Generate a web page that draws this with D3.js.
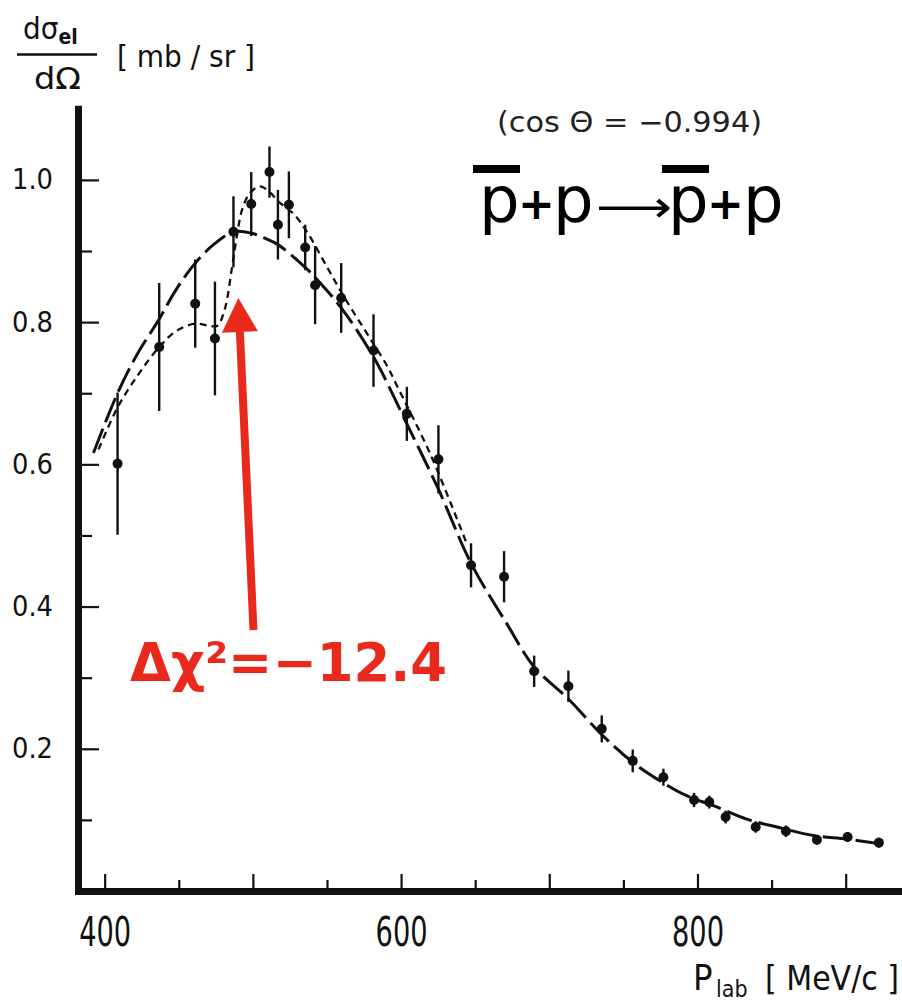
<!DOCTYPE html>
<html>
<head>
<meta charset="utf-8">
<script src="https://cdn.jsdelivr.net/npm/d3@7"></script>
<style>
  body { margin: 0; background: #fff; }
  svg { display: block; }
</style>
</head>
<body>
<svg id="chart" width="902" height="1004"></svg>
<script>
// measured points: p_lab [MeV/c], dsigma/dOmega [mb/sr], error
const momentum = [408.7, 436.8, 461.1, 474.4, 486.9, 498.9, 511.2, 516.9, 524.3, 535.3,
  542.0, 559.6, 581.4, 603.9, 625.2, 647.2, 669.5, 689.8, 712.9, 735.4,
  756.3, 777.0, 797.7, 808.0, 819.0, 839.3, 859.7, 880.6, 901.3, 922.4];
const crossSection = [0.601, 0.765, 0.826, 0.777, 0.927, 0.966, 1.011, 0.937, 0.965, 0.905,
  0.852, 0.834, 0.760, 0.671, 0.607, 0.458, 0.442, 0.309, 0.288, 0.228,
  0.183, 0.160, 0.128, 0.125, 0.104, 0.090, 0.084, 0.072, 0.076, 0.068];
const errors = [0.100, 0.090, 0.062, 0.080, 0.050, 0.045, 0.036, 0.049, 0.047, 0.032,
  0.055, 0.049, 0.051, 0.038, 0.048, 0.031, 0.036, 0.022, 0.022, 0.019,
  0.016, 0.012, 0.010, 0.009, 0.009, 0.008, 0.008, 0.007, 0.007, 0.007];

// long-dashed fit
const fitLongP = [392.4, 408.7, 422, 436.4, 448, 461.1, 474, 486.9, 499.3, 508, 516.9, 535.3,
  542, 559.6, 581.4, 603.9, 625.2, 647.2, 671.3, 689.8, 712.9, 735.4, 756.3, 777,
  792.7, 810.7, 833.2, 855.6, 878.1, 900.6, 920.9];
const fitLongV = [0.616, 0.700, 0.755, 0.803, 0.845, 0.883, 0.910, 0.927, 0.925, 0.918, 0.909, 0.877,
  0.863, 0.820, 0.751, 0.657, 0.565, 0.461, 0.376, 0.315, 0.270, 0.220, 0.181, 0.152,
  0.134, 0.120, 0.101, 0.089, 0.078, 0.073, 0.067];

// short-dashed fit (merges with the other one above ~645)
const fitShortP = [395.9, 408.7, 422.9, 436.8, 448, 461.1, 470, 476, 481, 486, 489.5, 493,
  498.2, 505, 511.7, 517, 527.5, 536.5, 549.9, 561.4, 579.1, 590.4, 597.1, 619.6, 644.4];
const fitShortV = [0.621, 0.680, 0.727, 0.765, 0.787, 0.798, 0.795, 0.795, 0.818, 0.878, 0.925, 0.960,
  0.982, 0.991, 0.982, 0.970, 0.952, 0.927, 0.878, 0.836, 0.777, 0.739, 0.711, 0.615, 0.488];

const xMajorTicks = [400, 500, 600, 700, 800, 900];
const xMinorTicks = [450, 550, 650, 750, 850];
const xTickLabels = [400, 600, 800];
const yMajorTicks = [0.2, 0.4, 0.6, 0.8, 1.0];
const yMinorTicks = [0.1, 0.3, 0.5, 0.7, 0.9];

// annotation arrow, in data units
const arrowTail = [500.4, 0.367];
const arrowTip = [490.2, 0.834];

const ink = "#111";
const red = "#e8291c";
const axisFont = "'Liberation Sans Narrow','DejaVu Sans Condensed','DejaVu Sans',sans-serif";

const svg = d3.select("#chart");

const x = d3.scaleLinear().domain([382, 938]).range([78, 902]);
const y = d3.scaleLinear().domain([0, 1.1]).range([891, 108.8]);

// ---- axes ----
const gy = svg.append("g").attr("transform", "translate(78,0)");
gy.call(d3.axisLeft(y).tickValues(yMajorTicks).tickSize(-21).tickSizeOuter(0).tickFormat(""));
gy.selectAll(".tick line").attr("stroke", ink).attr("stroke-width", 2.2);
const gyMinor = svg.append("g").attr("transform", "translate(78,0)");
gyMinor.call(d3.axisLeft(y).tickValues(yMinorTicks).tickSize(-14).tickSizeOuter(0).tickFormat(""));
gyMinor.select(".domain").remove();
gyMinor.selectAll(".tick line").attr("stroke", ink).attr("stroke-width", 2.2);

const gx = svg.append("g").attr("transform", "translate(0,891)");
gx.call(d3.axisBottom(x).tickValues(xMajorTicks).tickSize(-17).tickSizeOuter(0).tickFormat(""));
gx.selectAll(".tick line").attr("stroke", ink).attr("stroke-width", 2.2);
const gxMinor = svg.append("g").attr("transform", "translate(0,891)");
gxMinor.call(d3.axisBottom(x).tickValues(xMinorTicks).tickSize(-11).tickSizeOuter(0).tickFormat(""));
gxMinor.select(".domain").remove();
gxMinor.selectAll(".tick line").attr("stroke", ink).attr("stroke-width", 2.2);

svg.selectAll(".domain").attr("stroke", ink).attr("stroke-width", 7)
  .attr("stroke-linecap", "square");

// tick labels
const yLab = svg.append("g").attr("transform", "translate(78,0)")
  .call(d3.axisLeft(y).tickValues(yMajorTicks).tickSize(0).tickPadding(25)
    .tickFormat(d3.format(".1f")));
yLab.select(".domain").remove();
yLab.selectAll("text")
  .attr("font-family", axisFont).attr("font-size", 28).attr("fill", ink)
  .attr("textLength", 41).attr("lengthAdjust", "spacingAndGlyphs");

const xLab = svg.append("g").attr("transform", "translate(0,891)")
  .call(d3.axisBottom(x).tickValues(xTickLabels).tickSize(0).tickPadding(27)
    .tickFormat(d3.format("d")));
xLab.select(".domain").remove();
xLab.selectAll("text")
  .attr("font-family", axisFont).attr("font-size", 40).attr("fill", ink)
  .attr("textLength", 52).attr("lengthAdjust", "spacingAndGlyphs");

// ---- fit curves ----
const line = d3.line()
  .x(d => x(d[0]))
  .y(d => y(d[1]))
  .curve(d3.curveCatmullRom.alpha(0.5));

svg.append("path")
  .datum(d3.zip(fitLongP, fitLongV))
  .attr("d", line)
  .attr("fill", "none")
  .attr("stroke", ink)
  .attr("stroke-width", 3)
  .attr("stroke-dasharray", "26,7");

svg.append("path")
  .datum(d3.zip(fitShortP, fitShortV))
  .attr("d", line)
  .attr("fill", "none")
  .attr("stroke", ink)
  .attr("stroke-width", 2.3)
  .attr("stroke-dasharray", "7,5");

// ---- data points ----
const pts = d3.range(momentum.length).map(i => ({ p: momentum[i], v: crossSection[i], e: errors[i] }));

svg.append("g").selectAll("line")
  .data(pts)
  .enter()
  .append("line")
  .attr("x1", d => x(d.p))
  .attr("x2", d => x(d.p))
  .attr("y1", d => y(d.v + d.e))
  .attr("y2", d => y(d.v - d.e))
  .attr("stroke", ink)
  .attr("stroke-width", 2.4);

svg.append("g").selectAll("circle")
  .data(pts)
  .enter()
  .append("circle")
  .attr("cx", d => x(d.p))
  .attr("cy", d => y(d.v))
  .attr("r", 5)
  .attr("fill", ink);

// ---- axis titles ----
const num = svg.append("text")
  .attr("x", 23).attr("y", 39)
  .attr("font-family", axisFont).attr("font-size", 31).attr("fill", ink);
num.append("tspan").text("dσ");
num.append("tspan").text("el")
  .attr("dy", 5).attr("font-size", 21).attr("font-weight", "bold");
svg.append("line")
  .attr("x1", 17).attr("x2", 97).attr("y1", 54.5).attr("y2", 54.5)
  .attr("stroke", ink).attr("stroke-width", 2.5);
svg.append("text").text("dΩ")
  .attr("x", 34).attr("y", 89)
  .attr("font-family", axisFont).attr("font-size", 31).attr("fill", ink)
  .attr("textLength", 47).attr("lengthAdjust", "spacingAndGlyphs");
svg.append("text").text("[ mb / sr ]")
  .attr("x", 117).attr("y", 67)
  .attr("font-family", axisFont).attr("font-size", 30).attr("fill", ink)
  .attr("textLength", 138).attr("lengthAdjust", "spacingAndGlyphs");

svg.append("text").text("P")
  .attr("x", 693).attr("y", 990)
  .attr("font-family", axisFont).attr("font-size", 36).attr("fill", ink);
svg.append("text").text("lab")
  .attr("x", 716).attr("y", 997)
  .attr("font-family", axisFont).attr("font-size", 23).attr("fill", ink);
svg.append("text").text("[ MeV/c ]")
  .attr("x", 765).attr("y", 990)
  .attr("font-family", axisFont).attr("font-size", 34).attr("fill", ink)
  .attr("textLength", 134).attr("lengthAdjust", "spacingAndGlyphs");

// ---- annotations ----
svg.append("text").text("(cos  Θ = −0.994)")
  .attr("x", 497).attr("y", 132)
  .attr("font-family", axisFont).attr("font-size", 28).attr("fill", "#222")
  .attr("textLength", 265).attr("lengthAdjust", "spacingAndGlyphs");

const reaction = [
  { t: "p", x: 479, size: 64, base: 222, bar: true },
  { t: "+", x: 518, size: 44, base: 219, bold: true },
  { t: "p", x: 553, size: 64, base: 222 },
  { t: "⟶", x: 596, size: 44, base: 222, len: 76 },
  { t: "p", x: 668, size: 64, base: 222, bar: true },
  { t: "+", x: 707, size: 44, base: 219, bold: true },
  { t: "p", x: 743, size: 64, base: 222 }
];
const rg = svg.append("g");
reaction.forEach(r => {
  const tx = rg.append("text").text(r.t)
    .attr("x", r.x).attr("y", r.base)
    .attr("font-family", "'DejaVu Sans',sans-serif")
    .attr("font-size", r.size)
    .attr("font-weight", r.bold ? "bold" : "normal")
    .attr("fill", "#000");
  if (r.len) tx.attr("textLength", r.len).attr("lengthAdjust", "spacingAndGlyphs");
  if (r.bar) {
    rg.append("rect").attr("x", r.x - 6).attr("y", 165).attr("width", 47).attr("height", 8).attr("fill", "#000");
  }
});

// red arrow
const tx0 = x(arrowTail[0]), ty0 = y(arrowTail[1]);
const tx1 = x(arrowTip[0]), ty1 = y(arrowTip[1]);
const ang = Math.atan2(ty1 - ty0, tx1 - tx0);
const headLen = 34, headHalf = 18;
const bx = tx1 - headLen * Math.cos(ang), by = ty1 - headLen * Math.sin(ang);
svg.append("line")
  .attr("x1", tx0).attr("y1", ty0).attr("x2", bx).attr("y2", by)
  .attr("stroke", red).attr("stroke-width", 8);
svg.append("path")
  .attr("d", d3.line()([
    [tx1, ty1],
    [bx + headHalf * Math.sin(ang), by - headHalf * Math.cos(ang)],
    [bx - headHalf * Math.sin(ang), by + headHalf * Math.cos(ang)]
  ]) + "Z")
  .attr("fill", red);

svg.append("text").text("Δχ²=−12.4")
  .attr("x", 130).attr("y", 681)
  .attr("font-family", "'DejaVu Sans',Verdana,sans-serif")
  .attr("font-weight", "bold")
  .attr("font-size", 54)
  .attr("fill", red)
  .attr("textLength", 317).attr("lengthAdjust", "spacingAndGlyphs");
</script>
</body>
</html>
